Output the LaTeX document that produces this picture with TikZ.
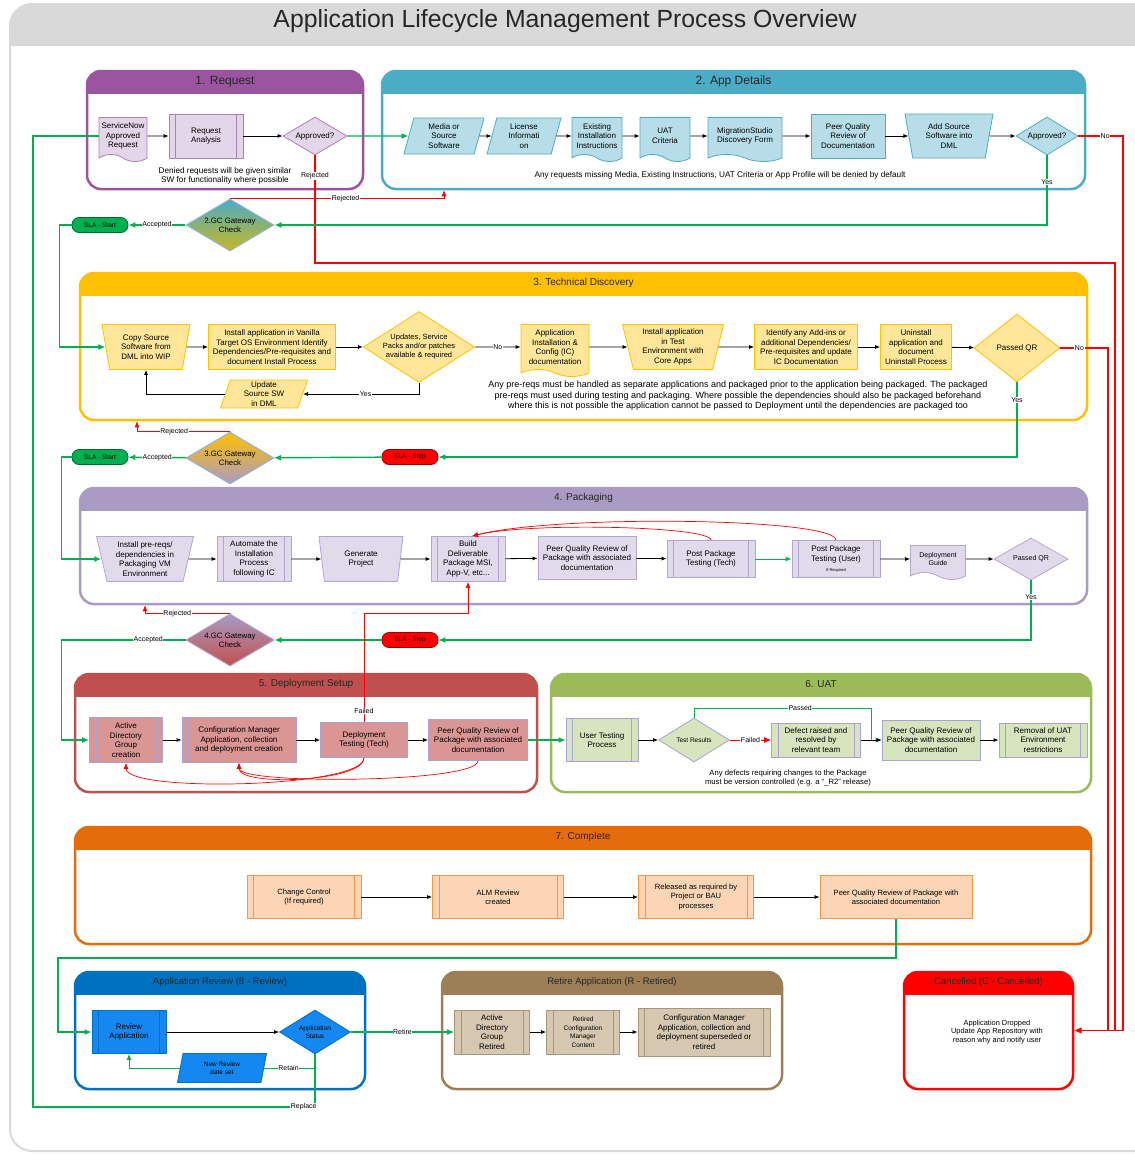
\documentclass[tikz,border=0pt]{standalone}
\usepackage{fontspec}
\setmainfont{Liberation Sans}
\usepackage{xcolor}
\usepackage{tikz}
\usetikzlibrary{arrows.meta, calc, shapes.geometric, shapes.symbols}

\definecolor{frameg}{HTML}{D9D9D9}
\definecolor{reqline}{HTML}{9B55A0}
\definecolor{reqfill}{HTML}{E4D6E9}
\definecolor{reqedge}{HTML}{A983B2}
\definecolor{appline}{HTML}{4BACC6}
\definecolor{appfill}{HTML}{B7DEE8}
\definecolor{tecline}{HTML}{FFC000}
\definecolor{tecfill}{HTML}{FFE699}
\definecolor{pakline}{HTML}{A99BC4}
\definecolor{pakfill}{HTML}{E1DAEB}
\definecolor{pakedge}{HTML}{B3A6D2}
\definecolor{depline}{HTML}{C0504D}
\definecolor{depfill}{HTML}{D99694}
\definecolor{uatline}{HTML}{9BBB59}
\definecolor{uatfill}{HTML}{D7E4BD}
\definecolor{lavedge}{HTML}{A9A3D3}
\definecolor{cmpline}{HTML}{E46C0A}
\definecolor{cmpfill}{HTML}{FBD5B5}
\definecolor{cmpedge}{HTML}{F79646}
\definecolor{revline}{HTML}{0070C0}
\definecolor{revfill}{HTML}{1488F0}
\definecolor{retline}{HTML}{9C7F57}
\definecolor{retfill}{HTML}{D6C7B1}
\definecolor{retedge}{HTML}{A89678}
\definecolor{okgreen}{HTML}{00B050}
\definecolor{gcedge}{HTML}{8DB4E2}
\definecolor{gcolive}{HTML}{C8B820}

\newcommand{\boxfont}{\fontsize{8}{9.6}\selectfont}
\newcommand{\notefont}{\fontsize{8.2}{9.6}\selectfont}
\newcommand{\lblfont}{\fontsize{7}{8}\selectfont}
\newcommand{\hdfont}{\fontsize{10}{12}\selectfont}

\tikzset{
    phasebox/.style={rectangle, draw=#1, line width=2.5pt, rounded corners=14pt, fill=white,
        path picture={\fill[#1, sharp corners] (path picture bounding box.north west) rectangle ([yshift=-23pt]path picture bounding box.north east);}},
    phasetitle/.style={font=\hdfont, text=black!85, inner sep=0pt},
    plainbox/.style={rectangle, draw=#1, line width=0.8pt, font=\boxfont, align=center, inner sep=1pt},
    procbox/.style={plainbox=#1, append after command={
        ([xshift=7pt]\tikzlastnode.north west) edge[draw=#1, line width=0.8pt] ([xshift=7pt]\tikzlastnode.south west)
        ([xshift=-7pt]\tikzlastnode.north east) edge[draw=#1, line width=0.8pt] ([xshift=-7pt]\tikzlastnode.south east)}},
    docbox/.style={tape, tape bend top=none, tape bend bottom=out and in, tape bend height=7pt, draw=#1, line width=0.8pt, font=\boxfont, align=center, inner sep=1pt},
    databox/.style={trapezium, trapezium left angle=70, trapezium right angle=110, trapezium stretches body, draw=#1, line width=0.8pt, font=\boxfont, align=center, inner sep=1pt},
    manbox/.style={trapezium, trapezium left angle=74, trapezium right angle=74, shape border rotate=180, trapezium stretches body, draw=#1, line width=0.8pt, font=\boxfont, align=center, inner sep=1pt},
    decbox/.style={diamond, draw=#1, line width=0.8pt, font=\boxfont, align=center, inner sep=0pt},
    gatebox/.style={diamond, draw=#1, line width=1pt, aspect=1.7, minimum width=88pt, minimum height=52pt, font=\fontsize{7.8}{9}\selectfont, align=center, inner sep=0pt},
    slabox/.style={rectangle, rounded corners=7pt, fill=#1, draw=#1!60!black, line width=0.8pt, minimum width=56pt, minimum height=15pt, inner sep=1pt, font=\fontsize{6.5}{7}\selectfont},
    notetxt/.style={font=\notefont, align=center, inner sep=0pt},
    lbl/.style={fill=white, font=\lblfont, inner sep=0.6pt},
    flow/.style={draw=black, line width=0.8pt, -{Latex[length=5pt, width=4pt]}},
    okflow/.style={draw=okgreen, line width=1.4pt, -{Latex[length=7pt, width=6pt]}},
    okthin/.style={draw=okgreen, line width=0.8pt, -{Latex[length=6pt, width=5pt]}},
    noflow/.style={draw=red, line width=1.4pt, -{Latex[length=7pt, width=6pt]}},
    backflow/.style={draw=red, line width=0.7pt, -{Latex[length=6pt, width=5pt]}}
}

\begin{document}
\begin{tikzpicture}[x=1pt, y=-1pt]
    \useasboundingbox (0,0) rectangle (1135,1154);
    \clip (0,0) rectangle (1135,1154);
    % frame
    \fill[frameg] (10,46) [rounded corners=22pt] -- (10,4) -- (1180,4) [sharp corners] -- (1180,46) -- cycle;
    \draw[frameg, line width=2pt, rounded corners=22pt] (1180,4) -- (10,4) -- (10,1151) -- (1180,1151);
    \node[font=\fontsize{24.8}{28}\selectfont, text=black!85] (ttl) at (565,21) {Application Lifecycle Management Process Overview};

    % phases
    \node[phasebox=reqline, minimum width=276pt, minimum height=118pt] (req) at (225,130) {};
    \node[phasebox=appline, minimum width=703pt, minimum height=118pt] (app) at (733.5,130) {};
    \node[phasebox=tecline, minimum width=1007pt, minimum height=147pt] (tech) at (583.5,346.5) {};
    \node[phasebox=pakline, minimum width=1007pt, minimum height=116pt] (pack) at (583.5,546) {};
    \node[phasebox=depline, minimum width=462pt, minimum height=118pt] (dep) at (306,733) {};
    \node[phasebox=uatline, minimum width=540pt, minimum height=118pt] (uat) at (821,733) {};
    \node[phasebox=cmpline, minimum width=1016pt, minimum height=117pt] (cmp) at (583,885.5) {};
    \node[phasebox=revline, minimum width=290pt, minimum height=117pt] (rev) at (220,1030.5) {};
    \node[phasebox=retline, minimum width=340pt, minimum height=117pt] (ret) at (612,1030.5) {};
    \node[phasebox=red, minimum width=169pt, minimum height=117pt] (cnl) at (988.5,1030.5) {};
    \node[phasetitle, font=\fontsize{12}{14}\selectfont] (t1) at ([yshift=-12pt]req.north) {1. Request};
    \node[phasetitle, font=\fontsize{12}{14}\selectfont] (t2) at ([yshift=-12pt]app.north) {2. App Details};
    \node[phasetitle] (t3) at ([yshift=-11.5pt]tech.north) {3. Technical Discovery};
    \node[phasetitle] (t4) at ([yshift=-11pt]pack.north) {4. Packaging};
    \node[phasetitle] (t5) at ([yshift=-11.5pt]dep.north) {5. Deployment Setup};
    \node[phasetitle] (t6) at ([yshift=-11.5pt]uat.north) {6. UAT};
    \node[phasetitle] (t7) at ([yshift=-11pt]cmp.north) {7. Complete};
    \node[phasetitle, font=\fontsize{9.5}{11}\selectfont] (t8) at ([yshift=-11.5pt]rev.north) {Application Review (8 - Review)};
    \node[phasetitle, font=\fontsize{9.5}{11}\selectfont] (t9) at ([yshift=-11.5pt]ret.north) {Retire Application (R - Retired)};
    \node[phasetitle, font=\fontsize{9.5}{11}\selectfont] (t10) at ([yshift=-11.5pt]cnl.north) {Cancelled (C - Cancelled)};

    % 1. request
    \node[docbox=reqedge, fill=reqfill, minimum width=48pt, minimum height=44pt] (sn) at (123,136) {ServiceNow\\Approved\\Request};
    \node[procbox=reqedge, fill=reqfill, minimum width=74pt, minimum height=44pt] (ra) at (206,136) {Request\\Analysis};
    \node[decbox=reqedge, fill=reqfill, aspect=1.7, minimum width=64pt, minimum height=38pt] (ap1) at (315,136) {Approved?};
    \node[notetxt] (deny) at (225,176) {Denied requests will be given similar\\SW for functionality where possible};

    % 2. app details
    \node[databox=appline, fill=appfill, minimum width=80pt, minimum height=36pt] (med) at (444,136) {Media or\\Source\\Software};
    \node[databox=appline, fill=appfill, minimum width=74pt, minimum height=36pt] (lic) at (524,136) {License\\Informati\\on};
    \node[docbox=appline, fill=appfill, minimum width=50pt, minimum height=44pt] (eii) at (597,136) {Existing\\Installation\\Instructions};
    \node[docbox=appline, fill=appfill, minimum width=50pt, minimum height=44pt] (uac) at (665,136) {UAT\\Criteria};
    \node[docbox=appline, fill=appfill, minimum width=74pt, minimum height=44pt] (msd) at (745,136) {MigrationStudio\\Discovery Form};
    \node[plainbox=appline, fill=appfill, minimum width=74pt, minimum height=44pt] (pqd) at (848,136) {Peer Quality\\Review of\\Documentation};
    \node[manbox=appline, fill=appfill, minimum width=88pt, minimum height=44pt] (dml) at (949,136) {Add Source\\Software into\\DML};
    \node[decbox=appline, fill=appfill, aspect=1.6, minimum width=62pt, minimum height=38pt] (ap2) at (1047,136) {Approved?};
    \node[notetxt] (miss) at (720,175) {Any requests missing Media, Existing Instructions, UAT Criteria or App Profile will be denied by default};

    % gateways
    \node[gatebox=gcedge, top color=appline, bottom color=gcolive] (gc2) at (230,225) {2.GC Gateway\\Check};
    \node[gatebox=gcedge, top color=tecline, bottom color=pakline] (gc3) at (230,458) {3.GC Gateway\\Check};
    \node[gatebox=pakline, top color=pakline, bottom color=depline] (gc4) at (230,640) {4.GC Gateway\\Check};
    \node[slabox=okgreen] (sla2) at (100,225) {SLA - Start};
    \node[slabox=okgreen] (sla3) at (100,457) {SLA - Start};
    \node[slabox=red] (stp3) at (410,457) {SLA - Stop};
    \node[slabox=red] (stp4) at (410,640) {SLA - Stop};

    % 3. technical discovery
    \node[manbox=tecline, fill=tecfill, minimum width=88pt, minimum height=45pt] (cps) at (146,347) {Copy Source\\Software from\\DML into WIP};
    \node[plainbox=tecline, fill=tecfill, minimum width=127pt, minimum height=45pt, inner sep=0.5pt] (iva) at (272,347) {Install application in Vanilla\\Target OS Environment Identify\\Dependencies/Pre-requisites and\\document Install Process};
    \node[decbox=tecline, fill=tecfill, aspect=1.57, minimum width=107pt, minimum height=68pt, font=\fontsize{7.5}{9}\selectfont] (upd) at (419,347) {Updates, Service\\Packs and/or patches\\available \& required};
    \node[docbox=tecline, fill=tecfill, minimum width=68pt, minimum height=52pt] (aic) at (555,347) {Application\\Installation \&\\Config (IC)\\documentation};
    \node[manbox=tecline, fill=tecfill, minimum width=101pt, minimum height=45pt] (ite) at (673,347) {Install application\\in Test\\Environment with\\Core Apps};
    \node[plainbox=tecline, fill=tecfill, minimum width=103pt, minimum height=45pt] (iad) at (806,347) {Identify any Add-ins or\\additional Dependencies/\\Pre-requisites and update\\IC Documentation};
    \node[plainbox=tecline, fill=tecfill, minimum width=71pt, minimum height=45pt] (uni) at (916,347) {Uninstall\\application and\\document\\Uninstall Process};
    \node[decbox=tecline, fill=tecfill, aspect=1.26, minimum width=86pt, minimum height=68pt] (qr3) at (1017,348) {Passed QR};
    \node[databox=tecline, fill=tecfill, minimum width=87pt, minimum height=28pt] (uss) at (264,394) {Update\\Source SW\\in DML};
    \node[notetxt, font=\fontsize{9}{10.6}\selectfont] (prq) at (738,396) {Any pre-reqs must be handled as separate applications and packaged prior to the application being packaged. The packaged\\pre-reqs must used during testing and packaging. Where possible the dependencies should also be packaged beforehand\\where this is not possible the application cannot be passed to Deployment until the dependencies are packaged too};

    % 4. packaging
    \node[manbox=pakedge, fill=pakfill, minimum width=97pt, minimum height=45pt] (ipr) at (145,559) {Install pre-reqs/\\dependencies in\\Packaging VM\\Environment};
    \node[procbox=pakedge, fill=pakfill, minimum width=74pt, minimum height=45pt] (aut) at (254,559) {Automate the\\Installation\\Process\\following IC};
    \node[manbox=pakedge, fill=pakfill, minimum width=84pt, minimum height=45pt] (gen) at (361,559) {Generate\\Project};
    \node[procbox=pakedge, fill=pakfill, minimum width=74pt, minimum height=45pt] (bld) at (468,559) {Build\\Deliverable\\Package MSI,\\App-V, etc...};
    \node[plainbox=pakedge, fill=pakfill, minimum width=98pt, minimum height=43pt] (pqp) at (587,558) {Peer Quality Review of\\Package with associated\\documentation};
    \node[procbox=pakedge, fill=pakfill, minimum width=88pt, minimum height=37pt] (ppt) at (711,559) {Post Package\\Testing (Tech)};
    \node[procbox=pakedge, fill=pakfill, minimum width=88pt, minimum height=37pt] (ppu) at (836,559) {Post Package\\Testing (User)\\{\fontsize{4}{5}\selectfont If Required}};
    \node[docbox=pakedge, fill=pakfill, minimum width=55pt, minimum height=34pt, font=\fontsize{7}{8.4}\selectfont] (dgd) at (938,559) {Deployment\\Guide};
    \node[decbox=pakedge, fill=pakfill, aspect=1.76, minimum width=74pt, minimum height=42pt, font=\fontsize{7}{8.4}\selectfont] (qr4) at (1031,559) {Passed QR};

    % 5. deployment setup
    \node[procbox=lavedge, fill=depfill, minimum width=73pt, minimum height=45pt] (adg) at (126,740) {Active\\Directory\\Group\\creation};
    \node[procbox=lavedge, fill=depfill, minimum width=114pt, minimum height=45pt] (cmc) at (239,740) {Configuration Manager\\Application, collection\\and deployment creation};
    \node[procbox=lavedge, fill=depfill, minimum width=87pt, minimum height=35pt] (dtt) at (364,740) {Deployment\\Testing (Tech)};
    \node[plainbox=lavedge, fill=depfill, minimum width=99pt, minimum height=41pt] (pqs) at (478,740) {Peer Quality Review of\\Package with associated\\documentation};

    % 6. uat
    \node[procbox=lavedge, fill=uatfill, minimum width=72pt, minimum height=43pt] (utp) at (602,740) {User Testing\\Process};
    \node[decbox=lavedge, fill=uatfill, aspect=1.6, minimum width=71pt, minimum height=44pt, font=\fontsize{6.5}{8}\selectfont] (trs) at (694,740) {Test Results};
    \node[procbox=lavedge, fill=uatfill, minimum width=89pt, minimum height=34pt] (dfr) at (816,740) {Defect raised and\\resolved by\\relevant team};
    \node[plainbox=lavedge, fill=uatfill, minimum width=98pt, minimum height=40pt] (pqu) at (931,740) {Peer Quality Review of\\Package with associated\\documentation};
    \node[procbox=lavedge, fill=uatfill, minimum width=88pt, minimum height=34pt] (rmv) at (1043,740) {Removal of UAT\\Environment\\restrictions};
    \node[notetxt, font=\fontsize{7.7}{9}\selectfont] (vcn) at (788,778) {Any defects requiring changes to the Package\\must be version controlled (e.g. a ``\_R2'' release)};

    % 7. complete
    \node[procbox=cmpedge, fill=cmpfill, minimum width=114pt, minimum height=43pt, font=\fontsize{7.6}{9.4}\selectfont] (chc) at (304,897) {Change Control\\(If required)};
    \node[procbox=cmpedge, fill=cmpfill, minimum width=131pt, minimum height=43pt, font=\fontsize{7.6}{9.4}\selectfont] (alm) at (498,897) {ALM Review\\created};
    \node[procbox=cmpedge, fill=cmpfill, minimum width=115pt, minimum height=43pt, font=\fontsize{7.6}{9.4}\selectfont] (rel) at (696,897) {Released as required by\\Project or BAU\\processes};
    \node[plainbox=cmpedge, fill=cmpfill, minimum width=152pt, minimum height=43pt, font=\fontsize{7.6}{9.4}\selectfont] (pqc) at (896,897) {Peer Quality Review of Package with\\associated documentation};

    % review, retire, cancelled
    \node[procbox=revline, fill=revfill, minimum width=74pt, minimum height=43pt] (rva) at (129,1032) {Review\\Application};
    \node[decbox=revline, fill=revfill, aspect=1.6, minimum width=71pt, minimum height=44pt, font=\fontsize{6.5}{8}\selectfont] (ast) at (315,1032) {Application\\Status};
    \node[databox=revline, fill=revfill, minimum width=89pt, minimum height=29pt, font=\fontsize{6.5}{8.5}\selectfont] (nrd) at (222,1068) {New Review\\date set};
    \node[procbox=retedge, fill=retfill, minimum width=75pt, minimum height=44pt] (adr) at (492,1032) {Active\\Directory\\Group\\Retired};
    \node[procbox=retedge, fill=retfill, minimum width=73pt, minimum height=44pt, font=\fontsize{6.5}{8.5}\selectfont] (rcm) at (583,1032) {Retired\\Configuration\\Manager\\Content};
    \node[procbox=retedge, fill=retfill, minimum width=132pt, minimum height=48pt] (cms) at (704,1032) {Configuration Manager\\Application, collection and\\deployment superseded or\\retired};
    \node[notetxt, font=\fontsize{7.4}{8.8}\selectfont] (cnt) at (997,1032) {Application Dropped\\Update App Repository with\\reason why and notify user};

    % routing points
    \coordinate (rjrow) at (0,263);
    \coordinate (busa) at (1108,0);
    \coordinate (busb) at (1115,0);
    \coordinate (busc) at (1123,0);
    \coordinate (fl) at (364,613);
    \coordinate (psd) at (871,708);
    \coordinate (rvw) at (58,958);
    \coordinate (rpl) at (33,1107);

    % request and app details
    \draw[flow] (sn) -- (ra);
    \draw[flow] (ra) -- (ap1);
    \draw[okflow] (ap1) -- (med);
    \draw[flow] (med) -- (lic);
    \draw[flow] (lic) -- (eii);
    \draw[flow] (eii) -- (uac);
    \draw[flow] (uac) -- (msd);
    \draw[flow] (msd) -- (pqd);
    \draw[flow] (pqd) -- (dml);
    \draw[flow] (dml) -- (ap2);
    \draw[noflow] (ap1.south) -- node[lbl, pos=0.19] {Rejected} (ap1.south |- rjrow) -- (rjrow -| busb) |- (cnl.east);
    \draw[noflow] (ap2.east) -- node[lbl, pos=0.6] {No} (ap2.east -| busc) |- (cnl.east);
    \draw[okflow] (ap2.south) |- node[lbl, pos=0.19] {Yes} (gc2.east);
    \draw[backflow] (gc2.north) -| node[lbl, pos=0.27] {Rejected} (med.south |- app.south);
    \draw[okflow] (gc2) -- node[lbl] {Accepted} (sla2);
    \draw[okflow] (sla2.west) -- ++(-12,0) |- (cps.west);

    % technical discovery
    \draw[flow] (cps) -- (iva);
    \draw[flow] (iva) -- (upd);
    \draw[flow] (upd) -- node[lbl] {No} (aic);
    \draw[flow] (aic) -- (ite);
    \draw[flow] (ite) -- (iad);
    \draw[flow] (iad) -- (uni);
    \draw[flow] (uni) -- (qr3);
    \draw[flow] (upd.south) |- node[lbl, pos=0.73] {Yes} (uss.east);
    \draw[flow] (uss.west) -| (cps.south);
    \draw[noflow] (qr3.east) -- node[lbl, pos=0.4] {No} (qr3.east -| busa) |- (cnl.east);
    \draw[okflow] (qr3.south) |- node[lbl, pos=0.12] {Yes} (stp3.east);
    \draw[okflow] (stp3) -- (gc3);
    \draw[okflow] (gc3) -- node[lbl] {Accepted} (sla3);
    \draw[okflow] (sla3.west) -- ++(-10,0) |- (ipr.west);
    \draw[backflow] (gc3.north) -| node[lbl, pos=0.3] {Rejected} ([xshift=-9pt]cps.south |- tech.south);

    % packaging
    \draw[flow] (ipr) -- (aut);
    \draw[flow] (aut) -- (gen);
    \draw[flow] (gen) -- (bld);
    \draw[flow] (bld) -- (pqp);
    \draw[flow] (pqp) -- (ppt);
    \draw[okthin] (ppt) -- (ppu);
    \draw[flow] (ppu) -- (dgd);
    \draw[flow] (dgd) -- (qr4);
    \draw[backflow] (ppt.north) .. controls ([yshift=14pt]ppt.north) and ([shift={(60pt,14pt)}]bld.north) .. ([xshift=4pt]bld.north);
    \draw[backflow] (ppu.north) .. controls ([yshift=22pt]ppu.north) and ([shift={(90pt,22pt)}]bld.north) .. ([xshift=4pt]bld.north);
    \draw[okflow] (qr4.south) |- node[lbl, pos=0.14] {Yes} (stp4.east);
    \draw[okflow] (stp4) -- (gc4);
    \draw[okflow] (gc4.west) -- node[lbl, pos=0.3] {Accepted} ++(-124,0) |- (adg.west);
    \draw[backflow] (gc4.north) -| node[lbl, pos=0.31] {Rejected} (ipr.south |- pack.south);
    \draw[backflow] (dtt.north) -- node[lbl, pos=0.1] {Failed} (dtt.north |- fl) -| (bld.south);

    % deployment setup and uat
    \draw[flow] (adg) -- (cmc);
    \draw[flow] (cmc) -- (dtt);
    \draw[flow] (dtt) -- (pqs);
    \draw[backflow] (dtt.south) .. controls ([yshift=-30pt]dtt.south) and ([yshift=-30pt]adg.south) .. (adg.south);
    \draw[backflow] (dtt.south) .. controls ([yshift=-24pt]dtt.south) and ([yshift=-24pt]cmc.south) .. (cmc.south);
    \draw[backflow] (pqs.south) .. controls ([yshift=-22pt]pqs.south) and ([yshift=-22pt]cmc.south) .. (cmc.south);
    \draw[okflow] (pqs) -- (utp);
    \draw[flow] (utp) -- (trs);
    \draw[noflow, line width=0.9pt] (trs) -- node[lbl] {Failed} (dfr);
    \draw[okthin] (trs.north) |- node[lbl, pos=0.8] {Passed} (psd) |- (pqu.west);
    \draw[flow] (dfr) -- (pqu);
    \draw[flow] (pqu) -- (rmv);

    % complete, review, retire
    \draw[flow] (chc) -- (alm);
    \draw[flow] (alm) -- (rel);
    \draw[flow] (rel) -- (pqc);
    \draw[okflow] (pqc.south) |- (rvw) |- (rva.west);
    \draw[flow] (rva) -- (ast);
    \draw[okflow] (ast) -- node[lbl] {Retire} (adr);
    \draw[okthin, -] (ast.south) |- node[lbl, pos=0.76] {Retain} (nrd.east);
    \draw[okthin] (nrd.west) -| (rva.south);
    \draw[okflow, -] (ast.south) |- node[lbl, pos=0.52] {Replace} (rpl) |- (sn.west);
    \draw[flow] (adr) -- (rcm);
    \draw[flow] (rcm) -- (cms);
\end{tikzpicture}
\end{document}
